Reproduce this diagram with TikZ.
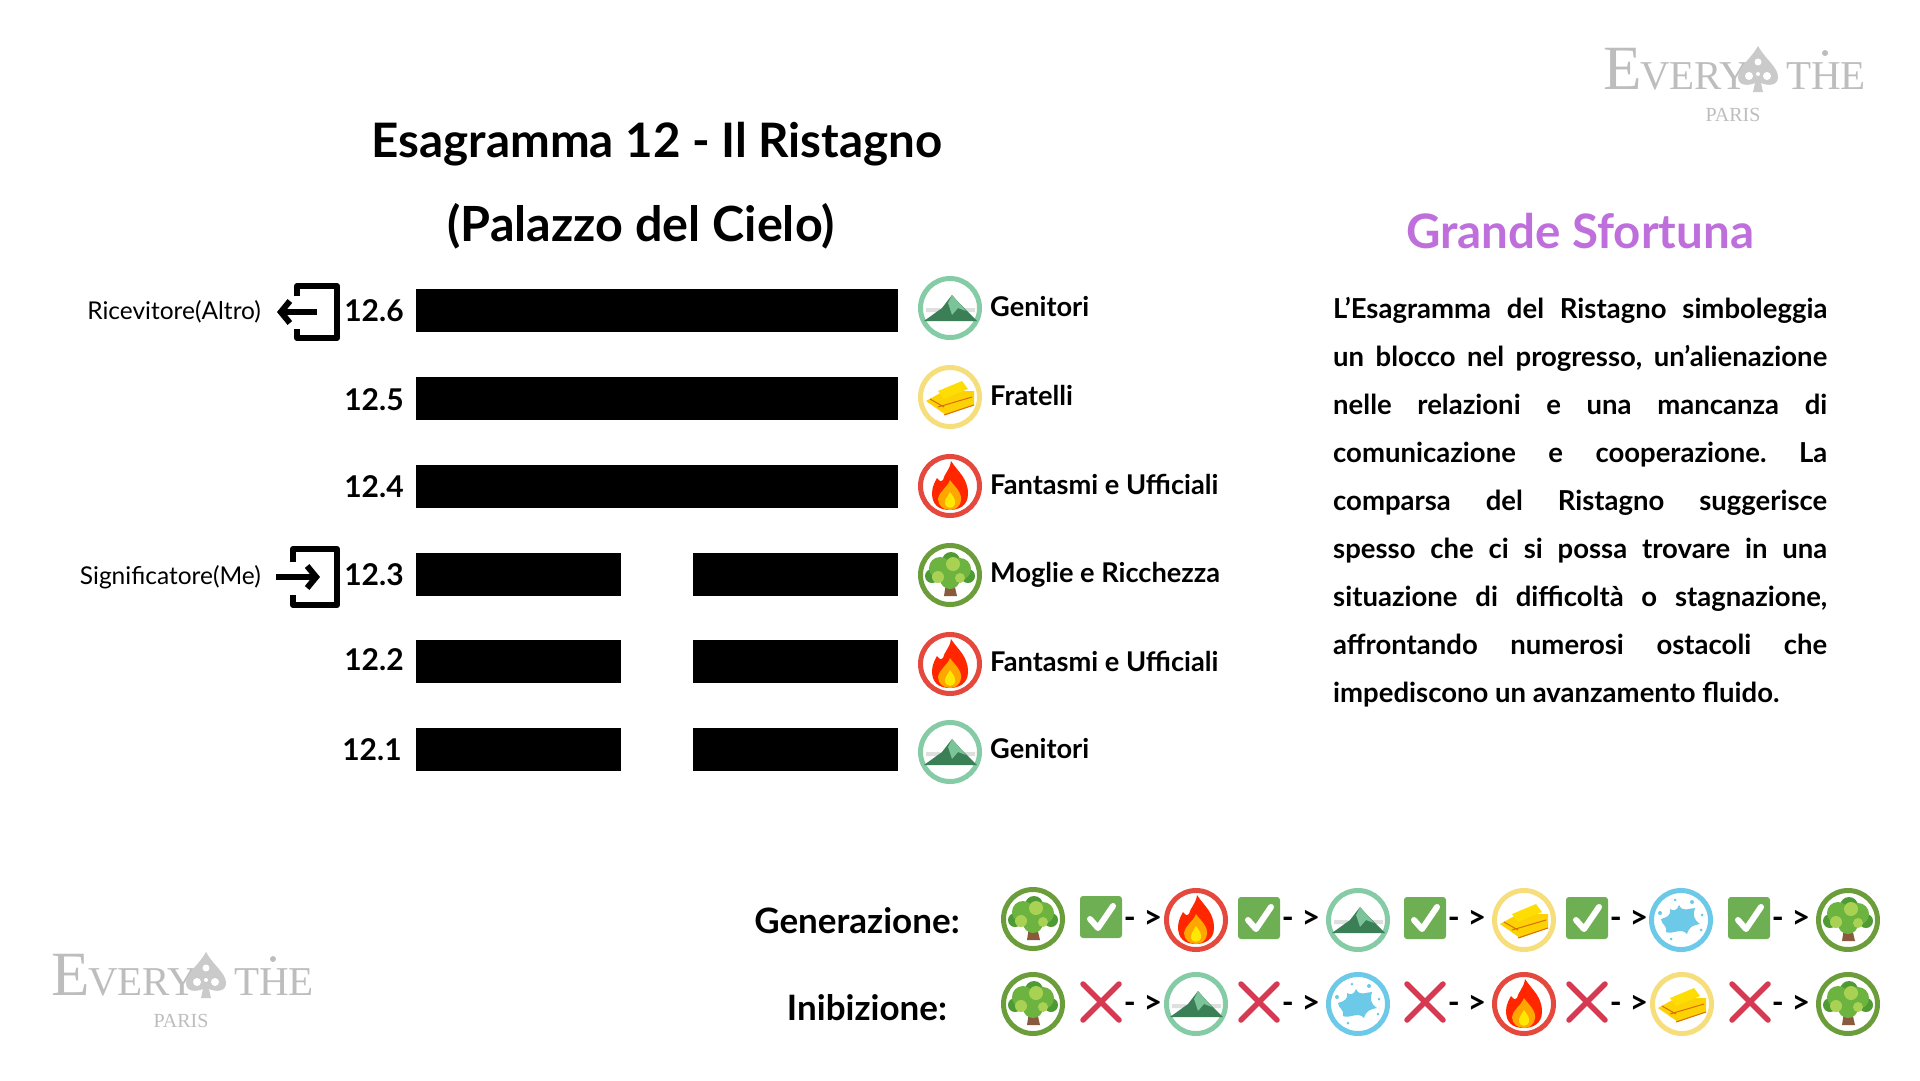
\documentclass[tikz,border=0pt]{standalone}
\usepackage{fontspec}
\setmainfont{Lato}
\newfontfamily\logofont{Liberation Serif}
\usetikzlibrary{calc,arrows.meta,positioning}
\definecolor{logogray}{HTML}{BDBDBD}
\definecolor{grandeviolet}{HTML}{BE6FDB}
\definecolor{treering}{HTML}{6B9E3A}
\definecolor{mountring}{HTML}{85CBA5}
\definecolor{goldring}{HTML}{F6DE7C}
\definecolor{firering}{HTML}{E5483C}
\definecolor{waterring}{HTML}{6CC9E8}
\definecolor{checkgreen}{HTML}{6FAF54}
\definecolor{crossred}{HTML}{D63A52}
\definecolor{mountdark}{HTML}{3A7F55}
\definecolor{mountlight}{HTML}{7CC39A}
\definecolor{leafdark}{HTML}{4E9A34}
\definecolor{leafmid}{HTML}{6DB33F}
\definecolor{leaflight}{HTML}{A9D255}
\definecolor{trunkbrown}{HTML}{8A5A3C}
\newcommand{\hand}[1]{\fontsize{#1}{#1}\selectfont\bfseries}
\tikzset{
  fullbar/.style={fill=black,anchor=north west,inner sep=0pt,minimum width=482pt,minimum height=43pt},
  halfbar/.style={fill=black,anchor=north west,inner sep=0pt,minimum width=205pt,minimum height=43pt},
  linenum/.style={font=\hand{30},anchor=center,inner sep=0pt},
  relation/.style={font=\hand{27.2},anchor=west,inner sep=0pt},
  sidelabel/.style={font=\fontsize{24.5}{25}\selectfont,anchor=east,inner sep=0pt},
  rowlabel/.style={font=\hand{35},anchor=center,inner sep=0pt},
  flow/.style={font=\hand{32},anchor=center,inner sep=0pt},
  iconring/.style={circle,draw=#1,line width=5pt,anchor=center,minimum size=59pt,inner sep=0pt},
  pics/treeicon/.style={code={
    \node[iconring=treering] (-ring) at (0,0) {};
    \fill[trunkbrown] (-4,8) -- (-6,21) -- (7,21) -- (4,8) -- cycle;
    \fill[leafdark] (-18,1) circle (7) (18,1) circle (7) (1,-14) circle (9);
    \fill[leafmid] (-10,-7) circle (11) (10,-6) circle (11) (0,4) circle (10);
    \fill[leaflight] (-12,2) circle (6) (3,-11) circle (7) (10,3) circle (5);
  }},
  pics/mounticon/.style={code={
    \node[iconring=mountring] (-ring) at (0,0) {};
    \fill[gray!25] (-24,0) rectangle (-10,4) (12,0) rectangle (25,4);
    \fill[mountdark] (-26,13) -- (-8,0) -- (2,-13) -- (10,-4) -- (27,13) -- cycle;
    \fill[mountlight] (2,-13) -- (16,3) -- (8,0) -- (2,7) -- (-2,-5) -- cycle;
  }},
  pics/goldicon/.style={code={
    \node[iconring=goldring] (-ring) at (0,0) {};
    \fill[yellow!70!orange] (-24,4) -- (-6,-6) -- (24,-6) -- (24,8) -- (-4,18) -- cycle;
    \fill[yellow!80!orange] (-12,-6) -- (12,-16) -- (18,-8) -- (-6,2) -- cycle;
    \draw[orange!85!black,line width=1pt] (-12,10) -- (22,0) (-6,18) -- (24,8) (-20,2) -- (-6,10);
  }},
  pics/fireicon/.style={code={
    \node[iconring=firering] (-ring) at (0,0) {};
    \fill[red!70!orange] (1,-25) .. controls (8,-14) and (18,-8) .. (18,8) .. controls (18,20) and (8,24) .. (0,24) .. controls (-12,24) and (-18,18) .. (-18,7) .. controls (-18,0) and (-14,-6) .. (-13,-8) .. controls (-10,-4) and (-8,-4) .. (-7,-6) .. controls (-6,-12) and (0,-16) .. (1,-25) -- cycle;
    \fill[orange!70!yellow] (0,-6) .. controls (4,0) and (12,6) .. (11,14) .. controls (10,22) and (4,24) .. (0,24) .. controls (-6,24) and (-12,20) .. (-12,13) .. controls (-10,4) and (-3,2) .. (0,-6) -- cycle;
    \fill[yellow!90!orange] (0,6) .. controls (3,10) and (6,14) .. (5,18) .. controls (4,23) and (-4,23) .. (-5,18) .. controls (-6,14) and (-2,10) .. (0,6) -- cycle;
  }},
  pics/watericon/.style={code={
    \node[iconring=waterring] (-ring) at (0,0) {};
    \fill[waterring] (-2,-15) .. controls (2,-7) and (8,-12) .. (14,-12) .. controls (12,-5) and (12,-1) .. (19,4) .. controls (12,5) and (8,7) .. (6,14) .. controls (0,7) and (-8,15) .. (-15,12) .. controls (-13,6) and (-20,4) .. (-20,-1) .. controls (-14,-3) and (-10,-4) .. (-11,-11) .. controls (-8,-9) and (-4,-9) .. (-2,-15) -- cycle;
    \fill[waterring] (-6,-20) circle (1.5) (11,-18) circle (2) (21,-5) circle (1.5) (-21,-7) circle (2) (20,10) circle (1.5) (-10,19) circle (1.5);
  }},
  pics/checkicon/.style={code={
    \node[fill=checkgreen,rounded corners=3pt,anchor=center,minimum size=42pt,inner sep=0pt] (-box) at (0,0) {};
    \draw[white,line width=6pt,line cap=round,line join=round] (-11,2) -- (-3,11) -- (12,-11);
  }},
  pics/crossicon/.style={code={
    \coordinate (-a) at (-18,-18);
    \coordinate (-b) at (18,18);
    \coordinate (-c) at (18,-18);
    \coordinate (-d) at (-18,18);
    \draw[crossred,line width=5.5pt,line cap=round] (-a) -- (-b) (-c) -- (-d);
  }},
  pics/everythe/.style={code={
    \node[anchor=base west,inner sep=0pt,logogray,font=\logofont\fontsize{63}{63}\selectfont] (-big) at (0,0) {E};
    \node[anchor=base west,inner sep=0pt,logogray,font=\logofont\fontsize{41}{41}\selectfont] (-very) at (37,0) {VERY};
    \node[anchor=base west,inner sep=0pt,logogray,font=\logofont\fontsize{41}{41}\selectfont] (-the) at (183,0) {THE};
    \node[anchor=center,inner sep=0pt,logogray,font=\logofont\fontsize{20}{20}\selectfont] (-paris) at (130,26) {PARIS};
    \fill[logogray!80] (155,-43) .. controls (162,-30) and (175,-22) .. (175,-12) .. controls (175,-3) and (165,-3) .. (158,-6) -- (160,3) -- (150,3) -- (152,-6) .. controls (145,-3) and (135,-3) .. (135,-12) .. controls (135,-22) and (148,-30) .. (155,-43) -- cycle;
    \fill[white] (155,-27) circle (3.5) (146,-13) circle (4) (164,-13) circle (4) (155,-15) circle (2);
    \fill[logogray] (222,-36) circle (3);
  }},
}
\begin{document}
\begin{tikzpicture}[x=1pt,y=-1pt,anchor=west]
    \useasboundingbox (0,0) rectangle (1920,1080);
    %% title
    \node[font=\hand{47.5},anchor=center] (title) at (657,144) {Esagramma 12 - Il Ristagno};
    \node[font=\hand{48.5},anchor=center] (subtitle) at (641,226) {(Palazzo del Cielo)};
    \node[font=\hand{47.5},anchor=center,text=grandeviolet] (verdict) at (1580,231) {Grande Sfortuna};
    %% lines of the hexagram
    \node[fullbar] (bar6) at (416,289) {};
    \node[fullbar] (bar5) at (416,377) {};
    \node[fullbar] (bar4) at (416,465) {};
    \node[halfbar] (bar3l) at (416,553) {};
    \node[halfbar] (bar3r) at (693,553) {};
    \node[halfbar] (bar2l) at (416,640) {};
    \node[halfbar] (bar2r) at (693,640) {};
    \node[halfbar] (bar1l) at (416,728) {};
    \node[halfbar] (bar1r) at (693,728) {};
    %%
    \node[linenum] (num6) at (374,311) {12.6};
    \node[linenum] (num5) at (374,400) {12.5};
    \node[linenum] (num4) at (374,487) {12.4};
    \node[linenum] (num3) at (374,575) {12.3};
    \node[linenum] (num2) at (374,660) {12.2};
    \node[linenum] (num1) at (372,750) {12.1};
    %% receiver and signifier
    \node[sidelabel] (altro) at (261,312) {Ricevitore(Altro)};
    \node[sidelabel] (me) at (261,577) {Significatore(Me)};
    \coordinate (altrofrom) at (317,312);
    \coordinate (altroto) at (277,312);
    \coordinate (mefrom) at (276,577);
    \coordinate (meto) at (320,577);
    \draw[line width=6pt,line join=round] (297,296) |- (337,286) |- (297,338) -- +(0,-9);
    \draw[line width=6pt,-{Straight Barb[length=9pt,width=22pt]}] (altrofrom) -- (altroto);
    \draw[line width=6pt,line join=round] (293,562) |- (337,549) |- (293,605) -- +(0,-10);
    \draw[line width=6pt,-{Straight Barb[length=9pt,width=22pt]}] (mefrom) -- (meto);
    %% relations
    \pic (rel6) at (950,308) {mounticon};
    \pic (rel5) at (950,397) {goldicon};
    \pic (rel4) at (950,486) {fireicon};
    \pic (rel3) at (950,575) {treeicon};
    \pic (rel2) at (950,664) {fireicon};
    \pic (rel1) at (950,752) {mounticon};
    \node[relation] (gen6) at (990,307) {Genitori};
    \node[relation] (gen5) at (990,395) {Fratelli};
    \node[relation] (gen4) at (990,484) {Fantasmi e Ufficiali};
    \node[relation] (gen3) at (990,575) {Moglie e Ricchezza};
    \node[relation] (gen2) at (990,661) {Fantasmi e Ufficiali};
    \node[relation] (gen1) at (990,749) {Genitori};
    %% text on the right
    \node[anchor=north west,inner sep=0pt,text width=494pt,align=justify,
      font=\fontsize{27.5}{48}\selectfont\bfseries\frenchspacing] (story) at (1333,297) {%
      L’Esagramma del Ristagno simboleggia\linebreak
      un blocco nel progresso, un’alienazione\linebreak
      nelle relazioni e una mancanza di\linebreak
      comunicazione e cooperazione. La\linebreak
      comparsa del Ristagno suggerisce\linebreak
      spesso che ci si possa trovare in una\linebreak
      situazione di difficoltà o stagnazione,\linebreak
      affrontando numerosi ostacoli che\linebreak
      impediscono un avanzamento fluido.};
    %% generation row
    \node[rowlabel] (genlabel) at (857,921) {Generazione:};
    \pic (ga) at (1033,919) {treeicon};
    \pic (gb) at (1196,920) {fireicon};
    \pic (gc) at (1358,920) {mounticon};
    \pic (gd) at (1524,920) {goldicon};
    \pic (ge) at (1681,920) {watericon};
    \pic (gf) at (1848,920) {treeicon};
    \pic (gca) at (1101,917) {checkicon};
    \pic (gcb) at (1259,918) {checkicon};
    \pic (gcc) at (1425,918) {checkicon};
    \pic (gcd) at (1587,918) {checkicon};
    \pic (gce) at (1749,918) {checkicon};
    \node[flow] (gfa) at (1143,919) {- >};
    \node[flow] (gfb) at (1301,919) {- >};
    \node[flow] (gfc) at (1467,919) {- >};
    \node[flow] (gfd) at (1629,919) {- >};
    \node[flow] (gfe) at (1791,919) {- >};
    %% inhibition row
    \node[rowlabel] (inlabel) at (867,1008) {Inibizione:};
    \pic (ia) at (1033,1004) {treeicon};
    \pic (ib) at (1196,1004) {mounticon};
    \pic (ic) at (1358,1004) {watericon};
    \pic (id) at (1524,1004) {fireicon};
    \pic (ie) at (1682,1004) {goldicon};
    \pic (if) at (1848,1004) {treeicon};
    \pic (ica) at (1101,1002) {crossicon};
    \pic (icb) at (1259,1002) {crossicon};
    \pic (icc) at (1425,1002) {crossicon};
    \pic (icd) at (1587,1002) {crossicon};
    \pic (ice) at (1750,1002) {crossicon};
    \node[flow] (ifa) at (1143,1004) {- >};
    \node[flow] (ifb) at (1301,1004) {- >};
    \node[flow] (ifc) at (1467,1004) {- >};
    \node[flow] (ifd) at (1629,1004) {- >};
    \node[flow] (ife) at (1791,1004) {- >};
    %% logos
    \pic (logotop) at (1603,89) {everythe};
    \pic (logobottom) at (51,995) {everythe};
  \end{tikzpicture}
\end{document}
